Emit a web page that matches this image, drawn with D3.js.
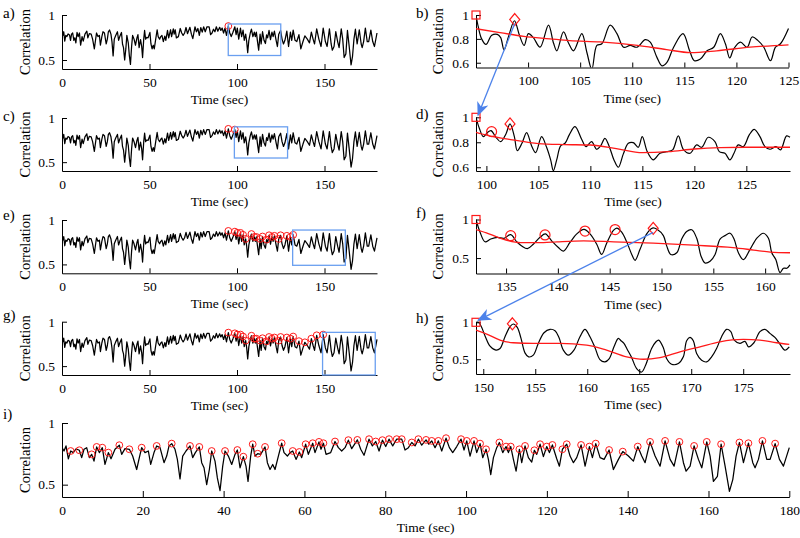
<!DOCTYPE html>
<html><head><meta charset="utf-8">
<script src="https://cdn.jsdelivr.net/npm/d3@7"></script>
<style>
body{margin:0;background:#fff} svg{display:block}
svg text{font-family:'Liberation Serif','Times New Roman',Times,serif;}
</style>
</head><body>
<svg id="c" width="800" height="538"></svg>
<script>
// ---------- DATA ----------
// full-length correlation trace [time (s), correlation]
const mainSeries = [[0,0.80],[0.5,0.773],[0.99,0.814],[1.57,0.71],[2.15,0.773],[2.8,0.76],[3.47,0.79],[4.29,0.779],[4.87,0.719],[5.45,0.787],[6.1,0.80],[6.77,0.719],[7.34,0.746],[7.92,0.691],[8.58,0.806],[9.24,0.76],[9.98,0.80],[10.64,0.664],[11.47,0.76],[12.13,0.71],[13.12,0.787],[14.19,0.82],[14.77,0.746],[15.59,0.792],[16.67,0.787],[17.49,0.732],[18.48,0.623],[19.14,0.719],[19.72,0.80],[20.54,0.76],[21.37,0.773],[21.95,0.664],[22.77,0.76],[23.43,0.814],[24.26,0.80],[25.25,0.678],[25.91,0.732],[26.49,0.814],[27.15,0.833],[27.97,0.787],[28.55,0.705],[29.21,0.546],[29.87,0.732],[30.69,0.773],[31.68,0.814],[32.34,0.719],[33.0,0.76],[33.99,0.806],[34.57,0.678],[35.15,0.637],[35.81,0.50],[36.47,0.623],[37.05,0.773],[37.87,0.691],[38.45,0.555],[39.11,0.451],[39.77,0.65],[40.35,0.773],[41.17,0.732],[42.0,0.664],[42.82,0.746],[43.4,0.781],[44.06,0.637],[44.88,0.727],[45.54,0.65],[46.04,0.527],[46.7,0.732],[47.2,0.828],[47.77,0.732],[48.43,0.751],[49.17,0.746],[50.25,0.806],[50.83,0.678],[51.49,0.623],[52.15,0.664],[52.72,0.623],[53.55,0.732],[54.37,0.836],[54.95,0.76],[55.78,0.732],[56.44,0.76],[57.1,0.773],[57.92,0.705],[58.74,0.765],[59.32,0.719],[60.3,0.828],[60.97,0.746],[62.05,0.836],[62.62,0.76],[63.6,0.847],[64.1,0.787],[64.7,0.836],[65.35,0.746],[66.5,0.76],[67.57,0.85],[68.4,0.80],[69.22,0.773],[70.05,0.80],[70.87,0.861],[71.7,0.792],[73.1,0.863],[73.93,0.787],[74.75,0.738],[75.99,0.869],[76.82,0.814],[77.64,0.85],[78.47,0.773],[79.3,0.861],[80.12,0.809],[80.94,0.869],[81.85,0.814],[82.84,0.869],
[84.08,0.869],[84.9,0.781],[85.73,0.80],[86.56,0.842],[87.38,0.814],[88.2,0.869],[89.03,0.82],[90.1,0.863],[90.76,0.828],[91.5,0.855],[92.33,0.80],[93.15,0.855],[93.98,0.773],[95.05,0.877],[95.87,0.80],[96.7,0.76],[97.69,0.809],[98.76,0.869],[99.5,0.781],[100.17,0.855],[100.99,0.732],[101.98,0.855],[102.64,0.76],[103.47,0.833],[104.13,0.719],[104.95,0.787],[105.53,0.705],[106.11,0.582],[106.77,0.719],[107.59,0.80],[108.25,0.842],[109.08,0.76],[109.9,0.809],[110.48,0.76],[111.06,0.809],[111.72,0.705],[112.38,0.609],[113.2,0.787],[113.78,0.678],[114.6,0.814],[115.43,0.719],[116.25,0.683],[116.91,0.779],[117.49,0.746],[118.32,0.828],[119.14,0.727],[119.97,0.809],[120.63,0.76],[121.37,0.822],[122.44,0.71],[123.1,0.65],[123.85,0.787],[124.92,0.828],[125.74,0.732],[126.57,0.678],[127.39,0.719],[128.47,0.822],[129.46,0.65],[130.53,0.809],[131.27,0.719],[132.1,0.833],[133.17,0.719],[134.16,0.705],[135.4,0.781],[136.47,0.623],[137.71,0.705],[138.78,0.768],[140.18,0.732],[141.42,0.691],[142.49,0.809],[143.48,0.732],[144.31,0.678],[145.54,0.847],[146.78,0.732],[148.02,0.65],[149.26,0.855],[150.5,0.705],[151.49,0.65],[152.81,0.847],[153.8,0.678],[154.46,0.609],[155.45,0.65],[156.44,0.814],[157.51,0.705],[158.34,0.637],[159.57,0.847],[160.4,0.732],[161.22,0.527],[162.21,0.568],[163.12,0.828],[164.11,0.65],[165.18,0.445],[166.01,0.541],[166.83,0.732],[167.66,0.842],[168.65,0.678],[169.88,0.836],[170.96,0.678],[171.53,0.637],[172.36,0.705],[173.35,0.855],[174.42,0.705],[175.25,0.705],[176.49,0.833],[177.56,0.705],[178.55,0.65],[180,0.80]];

// detected peaks (red circles)
const peaks = [[2.15,0.773],[4.29,0.779],[7.34,0.746],[8.58,0.806],[9.98,0.80],[11.47,0.76],[14.19,0.82],[16.67,0.787],[19.72,0.80],[23.43,0.814],[27.15,0.833],[31.68,0.814],[33.99,0.806],[37.05,0.773],[40.35,0.773],[43.4,0.781],[44.88,0.727],[47.2,0.828],[48.43,0.751],[50.25,0.806],[54.37,0.836],[57.1,0.773],[58.74,0.765],[60.3,0.828],[62.05,0.836],[63.6,0.847],[64.7,0.836],[67.57,0.85],[70.87,0.861],[73.1,0.863],[75.99,0.869],[77.64,0.85],[79.3,0.861],[80.94,0.869],[82.84,0.869],[84.08,0.869],[86.56,0.842],[88.2,0.869],[90.1,0.863],[91.5,0.855],[93.15,0.855],[95.05,0.877],[98.76,0.869],[100.17,0.855],[101.98,0.855],[103.47,0.833],[104.95,0.787],[108.25,0.842],[109.9,0.809],[111.06,0.809],[113.2,0.787],[114.6,0.814],[116.91,0.779],[118.32,0.828],[119.97,0.809],[121.37,0.822],[123.85,0.787],[124.92,0.828],[128.47,0.822],[130.53,0.809],[132.1,0.833],[135.4,0.781],[138.78,0.768],[142.49,0.809],[145.54,0.847],[149.26,0.855],[152.81,0.847],[156.44,0.814],[159.57,0.847],[163.12,0.828],[167.66,0.842],[169.88,0.836],[173.35,0.855],[176.49,0.833]];

// peaks shown in panels a,c,e,g,i : [from, to]
const peakRanges = {a:[95,95.1], c:[95,99], e:[95,132.2], g:[95,149.3], i:[0,180]};
// search windows (blue boxes): [t0, t1, c0, c1]
const windows = {a:[95,125,0.55,0.9], c:[98.5,128.9,0.547,0.9], e:[131.8,161.9,0.49,0.887], g:[148.9,179,0.4,0.88]};

// window correlations
const bSeries = [[95.0,1.0],[95.22,0.90],[95.54,0.80],[95.96,0.753],[96.51,0.83],[97.05,0.838],[97.37,0.81],[97.69,0.708],[98.11,0.816],[98.69,0.952],[99.17,0.83],[99.62,0.745],[100.03,0.844],[100.51,0.81],[101.15,0.73],[101.96,0.915],[102.44,0.765],[102.76,0.70],[103.4,0.858],[103.88,0.765],[104.36,0.70],[105.16,0.844],[105.64,0.688],[106.12,0.546],[106.6,0.745],[107.08,0.759],[107.88,0.915],[108.53,0.844],[109.17,0.73],[109.81,0.745],[110.45,0.73],[111.25,0.793],[111.73,0.773],[112.37,0.645],[112.85,0.574],[113.33,0.603],[113.97,0.73],[114.87,0.844],[115.51,0.70],[115.96,0.617],[116.54,0.631],[117.18,0.70],[117.82,0.73],[118.46,0.844],[118.94,0.759],[119.36,0.64],[119.74,0.716],[120.38,0.773],[121.03,0.73],[121.51,0.816],[122.05,0.787],[122.63,0.73],[123.27,0.617],[123.75,0.73],[124.23,0.759],[125.0,0.887]];
const bTrend = [[95,0.885],[97.3,0.853],[99.6,0.82],[102.1,0.80],[104,0.785],[106.9,0.774],[110.5,0.745],[113.3,0.71],[115.6,0.685],[118.1,0.70],[121.3,0.73],[125,0.75]];
const bSquares = [[95,1]], bDiamonds = [[98.72,0.962]], bCircles = [];

const dSeries = [[99.0,1.0],[99.32,0.912],[99.71,0.845],[100.09,0.877],[100.44,0.893],[100.92,0.84],[101.37,0.805],[101.88,0.867],[102.27,0.947],[102.69,0.845],[102.97,0.733],[103.42,0.792],[103.87,0.877],[104.35,0.771],[104.74,0.717],[105.31,0.845],[105.79,0.76],[106.18,0.659],[106.44,0.573],[106.76,0.659],[107.14,0.771],[107.56,0.792],[107.97,0.859],[108.52,0.925],[109.16,0.824],[109.58,0.765],[110.12,0.805],[110.6,0.744],[110.99,0.771],[111.4,0.832],[111.82,0.765],[112.27,0.659],[112.69,0.60],[113.17,0.707],[113.65,0.792],[114.13,0.797],[114.61,0.76],[114.99,0.845],[115.47,0.725],[116.05,0.659],[116.69,0.712],[117.33,0.725],[117.91,0.739],[118.46,0.851],[118.94,0.744],[119.58,0.712],[120.22,0.779],[120.7,0.76],[121.34,0.84],[121.98,0.805],[122.4,0.725],[122.94,0.712],[123.42,0.659],[123.81,0.712],[124.22,0.779],[124.71,0.765],[125.28,0.859],[125.76,0.904],[126.31,0.845],[126.79,0.765],[127.27,0.744],[127.85,0.765],[128.29,0.739],[128.87,0.851],[129.2,0.84]];
const dTrend = [[99,0.88],[100,0.858],[102.5,0.82],[105,0.79],[107.5,0.782],[110,0.778],[112.5,0.75],[115,0.717],[117.5,0.725],[120,0.746],[122.5,0.757],[125,0.76],[129.2,0.76]];
const dSquares = [[99,1]], dDiamonds = [[102.27,0.947]], dCircles = [[100.5,0.885]];

const fSeries = [[132.1,1.0],[132.49,0.836],[132.97,0.711],[133.52,0.747],[134.16,0.769],[134.8,0.756],[135.45,0.804],[136.03,0.711],[136.51,0.658],[137.06,0.622],[137.63,0.68],[138.28,0.769],[138.79,0.813],[139.4,0.724],[140.05,0.636],[140.53,0.591],[141.17,0.702],[141.82,0.813],[142.52,0.871],[143.1,0.813],[143.75,0.68],[144.23,0.547],[144.71,0.693],[145.36,0.858],[145.68,0.889],[146.16,0.836],[146.64,0.711],[147.13,0.547],[147.45,0.471],[147.93,0.613],[148.57,0.813],[149.12,0.889],[149.6,0.871],[150.18,0.791],[150.5,0.658],[150.89,0.547],[151.47,0.569],[151.95,0.747],[152.43,0.844],[152.92,0.867],[153.4,0.756],[153.82,0.524],[154.2,0.436],[154.69,0.458],[155.17,0.547],[155.65,0.747],[156.13,0.791],[156.62,0.822],[157.0,0.747],[157.42,0.569],[157.9,0.48],[158.55,0.613],[159.19,0.756],[159.83,0.822],[160.32,0.756],[160.64,0.569],[161.03,0.48],[161.44,0.311],[161.77,0.369],[162.09,0.369],[162.4,0.413]];
const fTrend = [[132.1,0.87],[133.1,0.827],[134.4,0.76],[136.4,0.70],[138.6,0.70],[139.9,0.71],[142.5,0.724],[145.4,0.71],[149.2,0.693],[153.1,0.667],[156.9,0.636],[158.9,0.604],[160.5,0.578],[162.4,0.569]];
const fSquares = [[132.1,1]], fDiamonds = [[149.2,0.885]], fCircles = [[135.45,0.79],[138.76,0.80],[142.62,0.85],[145.52,0.87]];

const hSeries = [[149.3,1.0],[149.56,1.0],[149.84,0.932],[150.2,0.805],[150.65,0.677],[151.22,0.623],[151.61,0.645],[152.09,0.805],[152.57,0.941],[152.89,0.977],[153.27,0.932],[153.63,0.782],[154.01,0.586],[154.36,0.532],[154.81,0.555],[155.29,0.714],[155.84,0.859],[156.42,0.905],[156.9,0.886],[157.28,0.795],[157.7,0.623],[158.18,0.555],[158.72,0.623],[159.3,0.805],[159.78,0.905],[160.26,0.805],[160.74,0.659],[161.22,0.495],[161.7,0.464],[162.12,0.509],[162.57,0.668],[162.99,0.782],[163.24,0.75],[163.53,0.714],[163.85,0.632],[164.27,0.523],[164.75,0.373],[165.23,0.327],[165.61,0.418],[166.19,0.645],[166.61,0.736],[166.86,0.759],[167.31,0.659],[167.63,0.509],[168.11,0.432],[168.76,0.441],[169.24,0.532],[169.56,0.75],[169.88,0.795],[170.2,0.75],[170.52,0.577],[171.0,0.486],[171.48,0.464],[171.96,0.532],[172.44,0.645],[172.92,0.805],[173.4,0.905],[173.79,0.877],[174.14,0.759],[174.68,0.714],[175.17,0.741],[175.52,0.668],[176.03,0.723],[176.61,0.873],[177.09,0.905],[177.57,0.85],[178.05,0.795],[178.53,0.705],[179.01,0.623],[179.43,0.668]];
const hTrend = [[149.3,0.895],[150.33,0.841],[151.61,0.759],[152.89,0.723],[154.81,0.714],[157.38,0.714],[159.94,0.691],[161.86,0.623],[163.79,0.532],[165.39,0.50],[166.99,0.523],[168.92,0.60],[170.84,0.668],[172.76,0.736],[175.0,0.768],[176.61,0.759],[178.21,0.723],[179.43,0.70]];
const hSquares = [[149.3,1]], hDiamonds = [[152.8,0.98]], hCircles = [];

const mainXTicks = [0,50,100,150];
const iXTicks = [0,20,40,60,80,100,120,140,160,180];
const bXTicks = [100,105,110,115,120,125];
const dXTicks = [100,105,110,115,120,125];
const fXTicks = [135,140,145,150,155,160];
const hXTicks = [150,155,160,165,170,175];
const mainYTicks = [0.5,1];
const bdYTicks = [0.6,0.8,1];
const fhYTicks = [0.5,1];

// ---------- DRAW ----------
const svg = d3.select("#c");
const RED = "#ff1a1a", BLUE = "#6a9ff0", ARROW = "#4c82ea";

const defs = svg.append("defs");
defs.append("marker").attr("id","ah").attr("viewBox","0 0 14 12")
  .attr("refX",13).attr("refY",6).attr("markerWidth",15).attr("markerHeight",12)
  .attr("markerUnits","userSpaceOnUse").attr("orient","auto")
  .append("path").attr("d","M0,0 L14,6 L0,12 L4,6 Z").attr("fill",ARROW);

let clipId = 0;
function panel(o){
  const x = d3.scaleLinear().domain(o.xDom).range([o.x0,o.x1]);
  const y = d3.scaleLinear().domain(o.yDom).range([o.bottom,o.top]);
  const g = svg.append("g");
  const cid = "clip"+(clipId++);
  defs.append("clipPath").attr("id",cid).append("rect")
    .attr("x",o.x0).attr("y",o.top-8).attr("width",o.x1-o.x0+1).attr("height",o.bottom-o.top+8);
  const tl = o.tickLen||5;
  const xa = g.append("g").attr("transform",`translate(0,${o.bottom})`)
    .call(d3.axisBottom(x).tickValues(o.xTicks).tickSizeInner(-tl).tickSizeOuter(0).tickPadding(8).tickFormat(d3.format("d")));
  const ya = g.append("g").attr("transform",`translate(${o.x0},0)`)
    .call(d3.axisLeft(y).tickValues(o.yTicks).tickSizeInner(-tl).tickSizeOuter(0).tickPadding(7)
      .tickFormat(d=> d===1?"1":d3.format(".1f")(d)));
  [xa,ya].forEach(a=>{
    a.attr("font-family",null).attr("font-size",13.5);
    a.selectAll("path,line").attr("stroke","#000").attr("stroke-width",1);
    a.selectAll("text").attr("fill","#000");
  });
  g.append("text").attr("x",(o.x0+o.x1)/2).attr("y",o.bottom+o.titleOff)
    .attr("text-anchor","middle").attr("font-size",13.5).text("Time (sec)");
  g.append("text").attr("transform",`translate(${o.ylx},${(o.top+o.bottom)/2}) rotate(-90)`)
    .attr("text-anchor","middle").attr("dominant-baseline","central")
    .attr("font-size",14.5).text("Correlation");
  g.append("text").attr("x",o.lx).attr("y",o.ly).attr("font-size",15).text(o.letter);
  const plot = g.append("g").attr("clip-path",`url(#${cid})`);
  return {x,y,g,plot};
}

const line = (p,curve)=> d3.line().x(d=>p.x(d[0])).y(d=>p.y(d[1])).curve(curve||d3.curveLinear);

function drawMain(key, top, bottom, x1, letterY, titleOff, ticks, tl){
  const p = panel({x0:62,x1:x1,top:top,bottom:bottom,xDom:[0,180],yDom:[0.4,1],
    xTicks:ticks,yTicks:mainYTicks,letter:key+")",lx:3,ly:letterY,ylx:25,titleOff:titleOff,tickLen:tl});
  p.plot.append("path").datum(mainSeries).attr("d",line(p)).attr("fill","none")
    .attr("stroke","#000").attr("stroke-width",1.25).attr("stroke-linejoin","round");
  const r = peakRanges[key];
  p.g.selectAll(null).data(peaks.filter(d=>d[0]>=r[0]&&d[0]<=r[1])).join("circle")
    .attr("cx",d=>p.x(d[0])).attr("cy",d=>p.y(d[1])).attr("r",3.4)
    .attr("fill","none").attr("stroke",RED).attr("stroke-width",1);
  if(windows[key]){
    const w = windows[key];
    p.g.append("rect").attr("x",p.x(w[0])).attr("y",p.y(w[3]))
      .attr("width",p.x(w[1])-p.x(w[0])).attr("height",p.y(w[2])-p.y(w[3]))
      .attr("fill","none").attr("stroke",BLUE).attr("stroke-width",1.3);
  }
  return p;
}

function drawDetail(letter, top, bottom, x1, xDom, yDom, xTicks, yTicks, letterY, series, trend, sq, dia, circ){
  const p = panel({x0:476,x1:x1,top:top,bottom:bottom,xDom:xDom,yDom:yDom,
    xTicks:xTicks,yTicks:yTicks,letter:letter+")",lx:416,ly:letterY,ylx:438,titleOff:35});
  p.plot.append("path").datum(series).attr("d",line(p,d3.curveCatmullRom.alpha(0.5))).attr("fill","none")
    .attr("stroke","#000").attr("stroke-width",1.2).attr("stroke-linejoin","round");
  p.plot.append("path").datum(trend).attr("d",line(p,d3.curveMonotoneX)).attr("fill","none")
    .attr("stroke",RED).attr("stroke-width",1.3);
  p.g.selectAll(null).data(sq).join("rect")
    .attr("x",d=>p.x(d[0])-4).attr("y",d=>p.y(d[1])-4).attr("width",8).attr("height",8)
    .attr("fill","none").attr("stroke",RED).attr("stroke-width",1.2);
  p.g.selectAll(null).data(dia).join("path")
    .attr("d",d=>{const cx=p.x(d[0]),cy=p.y(d[1]);return `M${cx},${cy-6}L${cx+5},${cy}L${cx},${cy+6}L${cx-5},${cy}Z`;})
    .attr("fill","none").attr("stroke",RED).attr("stroke-width",1.2);
  p.g.selectAll(null).data(circ).join("circle")
    .attr("cx",d=>p.x(d[0])).attr("cy",d=>p.y(d[1])).attr("r",5)
    .attr("fill","none").attr("stroke",RED).attr("stroke-width",1.2);
  return p;
}

const pa = drawMain("a",15,69,377,18,35,mainXTicks,5);
const pc = drawMain("c",118,171,377,121,35,mainXTicks,5);
const pe = drawMain("e",220,273.3,377,220,35,mainXTicks,5);
const pg = drawMain("g",321.7,375,377,320,35,mainXTicks,5);
const pi = drawMain("i",423,497,789.3,419,35,iXTicks,6);

const pb = drawDetail("b",15,67.5,788.5,[95,125],[0.56,1],bXTicks,bdYTicks,18,bSeries,bTrend,bSquares,bDiamonds,bCircles);
const pd = drawDetail("d",117.3,171,790,[99,129.2],[0.57,1],dXTicks,bdYTicks,119,dSeries,dTrend,dSquares,dDiamonds,dCircles);
const pf = drawDetail("f",219.5,273.5,790,[132.1,162.4],[0.3,1],fXTicks,fhYTicks,218,fSeries,fTrend,fSquares,fDiamonds,fCircles);
const ph = drawDetail("h",322.3,374,790,[149.3,179.5],[0.3,1],hXTicks,fhYTicks,323,hSeries,hTrend,hSquares,hDiamonds,hCircles);

// arrows: from detected best match (diamond) to the start of the next window (square)
function arrow(pFrom, from, pTo, to){
  const x0=pFrom.x(from[0]), y0=pFrom.y(from[1])+4, x1=pTo.x(to[0])+2, y1=pTo.y(to[1])-2;
  svg.append("line").attr("x1",x0).attr("y1",y0).attr("x2",x1).attr("y2",y1)
    .attr("stroke",ARROW).attr("stroke-width",1.3).attr("marker-end","url(#ah)");
}
arrow(pb,bDiamonds[0],pd,dSquares[0]);
arrow(pf,fDiamonds[0],ph,hSquares[0]);
</script>
</body></html>
